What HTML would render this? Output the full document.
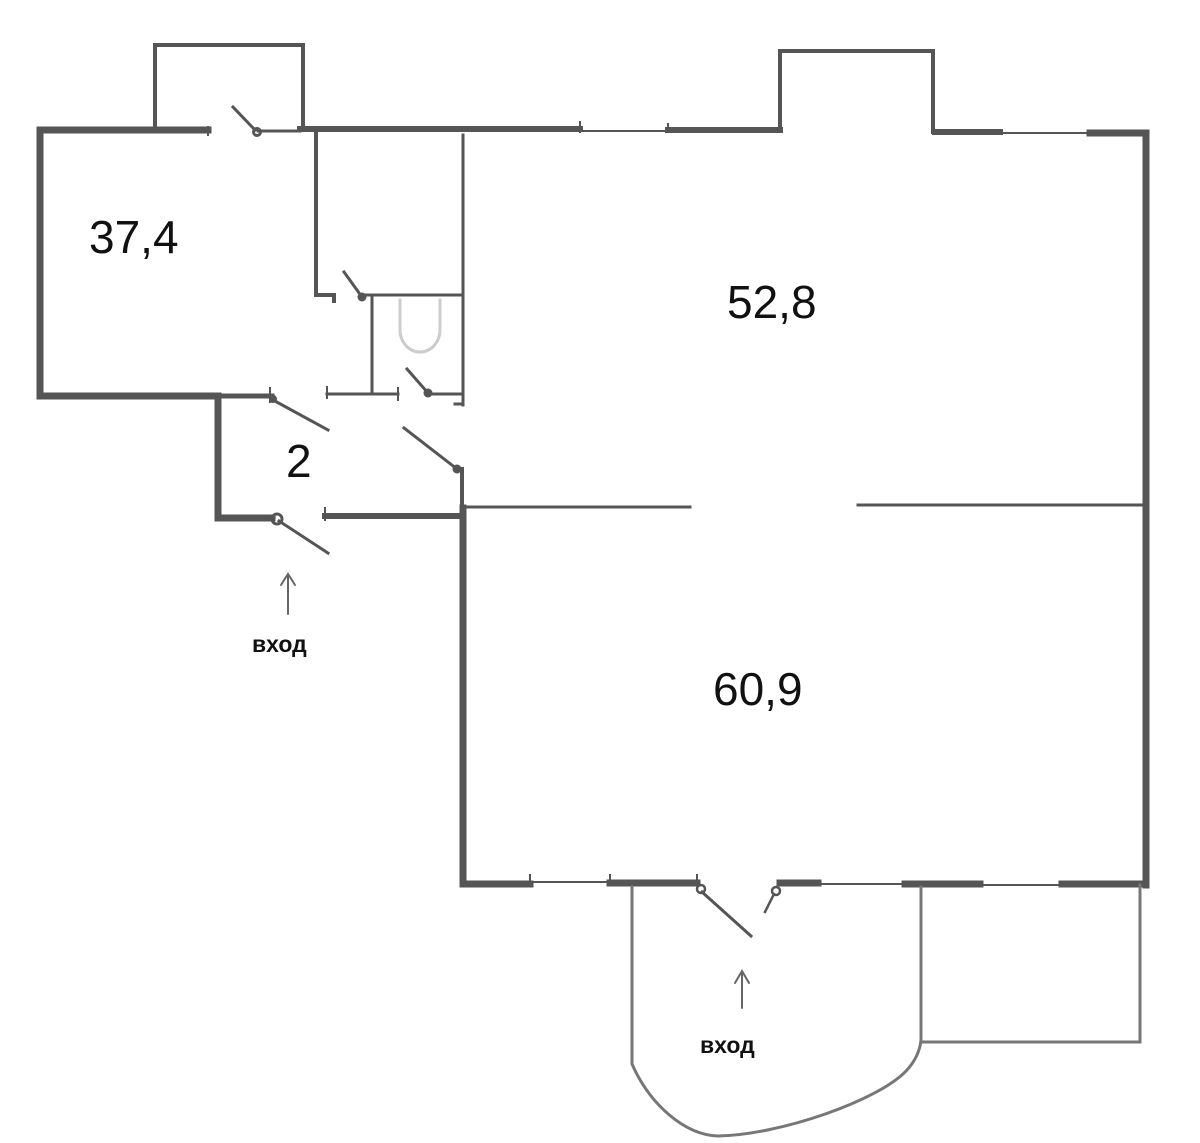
<!DOCTYPE html>
<html><head><meta charset="utf-8"><style>
html,body{margin:0;padding:0;background:#fff;}
svg{display:block}
</style></head><body>
<svg width="1200" height="1143" viewBox="0 0 1200 1143" xmlns="http://www.w3.org/2000/svg">
<g fill="none" stroke="#555" stroke-linecap="square">
<path d="M155,127 V45 H303 V129" stroke-width="4"/>
<path d="M208,130 H40 V396 H218 V518 H272" stroke-width="7"/>
<path d="M208,127 v8" stroke-width="2"/>
<line x1="258" y1="131" x2="300" y2="131" stroke-width="3"/>
<circle cx="257" cy="132" r="3.5" stroke-width="3"/>
<line x1="255" y1="130" x2="233" y2="107" stroke-width="3"/>
<line x1="300" y1="129" x2="580" y2="129" stroke-width="6"/>
<line x1="580" y1="122" x2="580" y2="132" stroke-width="2"/>
<line x1="580" y1="131" x2="668" y2="131" stroke-width="2"/>
<line x1="668" y1="124" x2="668" y2="132" stroke-width="2"/>
<line x1="668" y1="130" x2="780" y2="130" stroke-width="6"/>
<path d="M780,130 V51 H933 V132" stroke-width="4"/>
<line x1="935" y1="132" x2="1000" y2="132" stroke-width="6"/>
<line x1="1000" y1="133" x2="1090" y2="133" stroke-width="2"/>
<path d="M1090,133 H1146 V885" stroke-width="7"/>
<path d="M316,133 V295 H334 v6" stroke-width="4"/>
<line x1="463" y1="135" x2="463" y2="405" stroke-width="3"/>
<line x1="362" y1="295" x2="460" y2="295" stroke-width="3"/>
<line x1="372" y1="295" x2="372" y2="393" stroke-width="3"/>
<line x1="327" y1="394" x2="398" y2="394" stroke-width="3"/>
<line x1="327" y1="387" x2="327" y2="398" stroke-width="2"/>
<line x1="398" y1="388" x2="398" y2="400" stroke-width="2"/>
<line x1="428" y1="394" x2="460" y2="394" stroke-width="3"/>
<line x1="455" y1="404" x2="463" y2="404" stroke-width="3"/>
<circle cx="428" cy="393" r="4" fill="#555" stroke-width="1"/>
<line x1="428" y1="393" x2="407" y2="369" stroke-width="3"/>
<circle cx="362" cy="297" r="4" fill="#555" stroke-width="1"/>
<line x1="362" y1="297" x2="344" y2="272" stroke-width="3"/>
<path d="M400,300 v30 a20,22 0 0 0 40,0 v-30" stroke="#ccc" stroke-width="3"/>
<line x1="218" y1="396" x2="272" y2="396" stroke-width="5"/>
<line x1="270" y1="388" x2="270" y2="402" stroke-width="2"/>
<circle cx="273" cy="399" r="3.5" fill="#555" stroke-width="1"/>
<line x1="273" y1="400" x2="328" y2="430" stroke-width="3"/>
<circle cx="457" cy="469" r="4" fill="#555" stroke-width="1"/>
<line x1="457" y1="469" x2="404" y2="428" stroke-width="3"/>
<line x1="462" y1="469" x2="462" y2="508" stroke-width="4"/>
<circle cx="277" cy="519" r="5" stroke-width="3"/>
<line x1="279" y1="521" x2="328" y2="553" stroke-width="3"/>
<line x1="325" y1="516" x2="462" y2="516" stroke-width="6"/>
<line x1="325" y1="508" x2="325" y2="520" stroke-width="2"/>
<line x1="463" y1="507" x2="690" y2="507" stroke-width="3"/>
<line x1="858" y1="505" x2="1145" y2="505" stroke-width="3"/>
<path d="M463,508 V884 H530" stroke-width="7"/>
<line x1="530" y1="875" x2="530" y2="885" stroke-width="2"/>
<line x1="530" y1="882" x2="610" y2="882" stroke-width="2"/>
<line x1="610" y1="883" x2="697" y2="883" stroke-width="7"/>
<line x1="610" y1="875" x2="610" y2="885" stroke-width="2"/>
<line x1="697" y1="875" x2="697" y2="885" stroke-width="2"/>
<circle cx="701" cy="889" r="4" stroke-width="2.5"/>
<line x1="702" y1="892" x2="751" y2="936" stroke-width="3"/>
<circle cx="776" cy="891" r="4" stroke-width="2.5"/>
<line x1="774" y1="894" x2="765" y2="912" stroke-width="2.5"/>
<line x1="780" y1="883" x2="818" y2="883" stroke-width="7"/>
<line x1="818" y1="884" x2="905" y2="884" stroke-width="2"/>
<line x1="905" y1="884" x2="980" y2="884" stroke-width="7"/>
<line x1="980" y1="885" x2="1062" y2="885" stroke-width="2"/>
<line x1="1062" y1="884" x2="1146" y2="884" stroke-width="7"/>
<path d="M632,887 V1064 C650,1105 685,1135 718,1136 C780,1135 880,1100 907,1070 C916,1060 920,1050 921,1040 V887" stroke="#777" stroke-width="3"/>
<path d="M921,1042 H1140 V885" stroke="#777" stroke-width="3"/>
<path d="M288,614 V575 M281,585 L288,574 L295,585" stroke="#666" stroke-width="2" stroke-linecap="round"/>
<path d="M742,1008 V972 M735,983 L742,971 L749,983" stroke="#666" stroke-width="2" stroke-linecap="round"/>
</g>
<g font-family="'Liberation Sans', 'Noto Sans CJK SC', sans-serif" fill="#111">
<text x="89" y="253" font-size="46">37,4</text>
<text x="727" y="318" font-size="46">52,8</text>
<text x="713" y="705" font-size="46">60,9</text>
<text x="286" y="477" font-size="46">2</text>
<text x="252" y="652" font-size="23" font-weight="bold">вход</text>
<text x="700" y="1053" font-size="23" font-weight="bold">вход</text>
</g>
</svg>
</body></html>
